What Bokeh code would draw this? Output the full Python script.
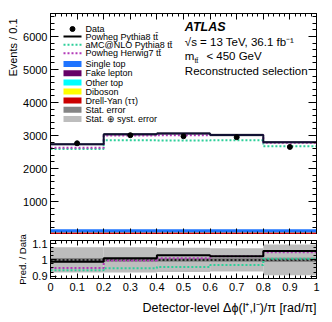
import numpy as np
from bokeh.plotting import figure
from bokeh.models import (Label, LinearAxis, FixedTicker, Range1d,
                          CustomJSTickFormatter, Title)
from bokeh.layouts import column
from bokeh.embed import file_html
from bokeh.resources import INLINE

# ---------------- data ----------------
edges = [0.0, 0.2, 0.4, 0.6, 0.8, 1.0]
centers = [0.1, 0.3, 0.5, 0.7, 0.9]
data = [2765, 3010, 2980, 2950, 2655]
powheg = [2735, 3040, 3065, 3015, 2800]
amc = [2590, 2855, 2850, 2855, 2672]
herwig = [2628, 3000, 3012, 3018, 2782]
bkg_dy = [60, 60, 60, 60, 60]
bkg_diboson = [4, 4, 4, 4, 4]
bkg_othertop = [6, 6, 6, 6, 6]
bkg_fake = [8, 8, 8, 8, 8]
bkg_singletop = [78, 80, 82, 80, 78]
stat_rel = [0.012, 0.012, 0.012, 0.012, 0.013]
tot_rel = [0.078, 0.078, 0.075, 0.072, 0.095]

x_major = [0.0, 0.1, 0.2, 0.3, 0.4, 0.5, 0.6, 0.7, 0.8, 0.9, 1.0]
x_minor = [round(i * 0.02, 2) for i in range(51)]
y_major = [1000, 2000, 3000, 4000, 5000, 6000]
y_minor = [i * 200 for i in range(34)]
r_major = [0.9, 1.0, 1.1]
r_minor = [round(0.875 + i * 0.025, 3) for i in range(11)]

FONT = "Liberation Sans"
c_amc = "#2ecf9a"
c_her = "#b33ab8"
c_stat = "#858585"
c_tot = "#bdbdbd"
c_bkg = {"Single top": "#1f74ff", "Fake lepton": "#660066", "Other top": "#00ffff",
         "Diboson": "#ffff00", "Drell-Yan (ττ)": "#cc0000"}

# layout constants (pixels inside the main frame)
FW, FH = 266, 221
YMAX = 6700

def px_x(px):
    return px / FW

def px_y(px):
    return YMAX - px * YMAX / FH

def steps(vals):
    return list(vals) + [vals[-1]]

blank = CustomJSTickFormatter(code="return '';")
fmt = CustomJSTickFormatter(code="return tick.toFixed(1).replace(/\\.0$/, '');")

def style_axis(ax, mj, mn, labels=True, size="11px"):
    ax.major_tick_in = mj
    ax.major_tick_out = 0
    ax.minor_tick_in = mn
    ax.minor_tick_out = 0
    ax.axis_line_color = "black"
    ax.major_tick_line_color = "black"
    ax.minor_tick_line_color = "black"
    ax.major_label_text_font = FONT
    ax.major_label_text_color = "black"
    if labels:
        ax.major_label_text_font_size = size
        ax.major_label_standoff = 3
    else:
        ax.formatter = blank
        ax.major_label_standoff = 0

def side_title(fig, text, side, align, size, standoff=3, offset=0):
    fig.add_layout(Title(text=text, align=align, text_font=FONT, text_font_size=size,
                         text_font_style="normal", text_color="black",
                         standoff=standoff, offset=offset), side)

def lab(fig, x, y, text, size="11.5px", style="normal", baseline="middle"):
    fig.add_layout(Label(x=x, y=y, text=text, text_font=FONT, text_font_size=size,
                         text_font_style=style, text_baseline=baseline,
                         text_color="black"))

# ---------------- main panel ----------------
p = figure(frame_width=FW, frame_height=FH, x_range=Range1d(0, 1),
           y_range=Range1d(0, YMAX), output_backend="svg",
           toolbar_location=None, min_border_left=50, min_border_right=8,
           min_border_top=13, min_border_bottom=0)
p.xgrid.visible = False
p.ygrid.visible = False
p.outline_line_color = "black"

p.xaxis.ticker = FixedTicker(ticks=x_major, minor_ticks=x_minor)
p.yaxis.ticker = FixedTicker(ticks=y_major, minor_ticks=y_minor)
style_axis(p.xaxis[0], 6, 3, labels=False)
style_axis(p.yaxis[0], 8, 4)

ax_top = LinearAxis(ticker=FixedTicker(ticks=x_major, minor_ticks=x_minor))
style_axis(ax_top, 6, 3, labels=False)
p.add_layout(ax_top, "above")
ax_right = LinearAxis(ticker=FixedTicker(ticks=y_major, minor_ticks=y_minor))
style_axis(ax_right, 8, 4, labels=False)
p.add_layout(ax_right, "right")
side_title(p, "Events / 0.1", "left", "right", "11px", standoff=4, offset=5)

# stacked backgrounds
lefts = edges[:-1]
rights = edges[1:]
stack_order = [("Drell-Yan (ττ)", bkg_dy), ("Diboson", bkg_diboson),
               ("Other top", bkg_othertop), ("Fake lepton", bkg_fake),
               ("Single top", bkg_singletop)]
bottom = np.zeros(5)
for name, vals in stack_order:
    top = bottom + np.array(vals)
    p.quad(left=lefts, right=rights, bottom=bottom.tolist(), top=top.tolist(),
           fill_color=c_bkg[name], line_color=None)
    bottom = top

pw = np.array(powheg, dtype=float)
st = np.array(stat_rel)
tot = np.array(tot_rel)
p.quad(left=lefts, right=rights, bottom=(pw * (1 - st)).tolist(),
       top=(pw * (1 + st)).tolist(), fill_color=c_stat, line_color=None)

p.step(edges, steps(amc), mode="after", line_color=c_amc, line_width=2, line_dash="2 2")
p.step(edges, steps(herwig), mode="after", line_color=c_her, line_width=2, line_dash="2 2")
p.step(edges, steps(powheg), mode="after", line_color="#111133", line_width=2)
p.scatter(centers, data, size=5, color="black")

# ---- legend (drawn by hand, ROOT style) ----
leg_rows = [("Data", "marker", "black"),
            ("Powheg Pythia8 tt̄", "solid", "black"),
            ("aMC@NLO Pythia8 tt̄", "dot", c_amc),
            ("Powheg Herwig7 tt̄", "dot", c_her),
            ("Single top", "box", c_bkg["Single top"]),
            ("Fake lepton", "box", c_bkg["Fake lepton"]),
            ("Other top", "box", c_bkg["Other top"]),
            ("Diboson", "box", c_bkg["Diboson"]),
            ("Drell-Yan (ττ)", "box", c_bkg["Drell-Yan (ττ)"]),
            ("Stat. error", "box", c_stat),
            ("Stat. ⊕ syst. error", "box", c_tot)]
row_px = [15.5, 23, 31.3, 39.7, 50.6, 59.8, 69, 78, 87, 96.3, 105.5]
sx0, sx1, tx = px_x(13), px_x(31), px_x(35)
for (text, kind, col), ry in zip(leg_rows, row_px):
    yc = px_y(ry)
    if kind == "marker":
        p.scatter([(sx0 + sx1) / 2], [yc], size=5, color=col)
    elif kind == "solid":
        p.segment(x0=[sx0], y0=[yc], x1=[sx1], y1=[yc], line_color=col, line_width=2)
    elif kind == "dot":
        p.segment(x0=[sx0], y0=[yc], x1=[sx1], y1=[yc], line_color=col, line_width=2,
                  line_dash="2 2")
    else:
        p.quad(left=[sx0], right=[sx1], bottom=[px_y(ry + 3)], top=[px_y(ry - 3)],
               fill_color=col, line_color=None)
    lab(p, tx, yc, text, size="9px")

lab(p, 0.505, 6300, "ATLAS", size="12.5px", style="bold italic")
lab(p, 0.505, 5850, "√s = 13 TeV, 36.1 fb⁻¹")
lab(p, 0.505, 5400, "m")
lab(p, 0.541, 5290, "tt̄", size="7px")
lab(p, 0.586, 5400, "< 450 GeV")
lab(p, 0.505, 4970, "Reconstructed selection")

# ---------------- ratio panel ----------------
q = figure(frame_width=FW, frame_height=38, x_range=p.x_range,
           y_range=Range1d(0.885, 1.12), output_backend="svg",
           toolbar_location=None, min_border_left=50, min_border_right=8,
           min_border_top=6, min_border_bottom=20)
q.xgrid.visible = False
q.ygrid.visible = False
q.outline_line_color = "black"

q.xaxis.ticker = FixedTicker(ticks=x_major, minor_ticks=x_minor)
q.yaxis.ticker = FixedTicker(ticks=r_major, minor_ticks=r_minor)
style_axis(q.xaxis[0], 5, 3)
style_axis(q.yaxis[0], 6, 3)
q.xaxis.formatter = fmt
q.yaxis.formatter = fmt
q.xaxis.major_label_standoff = 4

qt = LinearAxis(ticker=FixedTicker(ticks=x_major, minor_ticks=x_minor))
style_axis(qt, 5, 3, labels=False)
q.add_layout(qt, "above")
qr = LinearAxis(ticker=FixedTicker(ticks=r_major, minor_ticks=r_minor))
style_axis(qr, 6, 3, labels=False)
q.add_layout(qr, "right")
side_title(q, "Detector-level Δϕ(l⁺,l⁻)/π [rad/π]", "below", "right", "12.5px", standoff=11)
side_title(q, "Pred. / Data", "left", "center", "9.5px", standoff=4)

q.quad(left=lefts, right=rights, bottom=(1 - tot).tolist(), top=(1 + tot).tolist(),
       fill_color=c_tot, line_color=None)
q.quad(left=lefts, right=rights, bottom=(1 - st).tolist(), top=(1 + st).tolist(),
       fill_color=c_stat, line_color=None)
q.step(edges, [1.0] * 6, mode="after", line_color="black", line_width=1.5, line_dash="2 2")

d = np.array(data, dtype=float)
q.step(edges, steps((np.array(amc) / d).tolist()), mode="after", line_color=c_amc, line_width=2, line_dash="2 2")
q.step(edges, steps((np.array(herwig) / d).tolist()), mode="after", line_color=c_her, line_width=2, line_dash="2 2")
q.step(edges, steps((pw / d).tolist()), mode="after", line_color="black", line_width=2)

layout = column(p, q, spacing=0)
open("out.html", "w").write(file_html(layout, INLINE))
